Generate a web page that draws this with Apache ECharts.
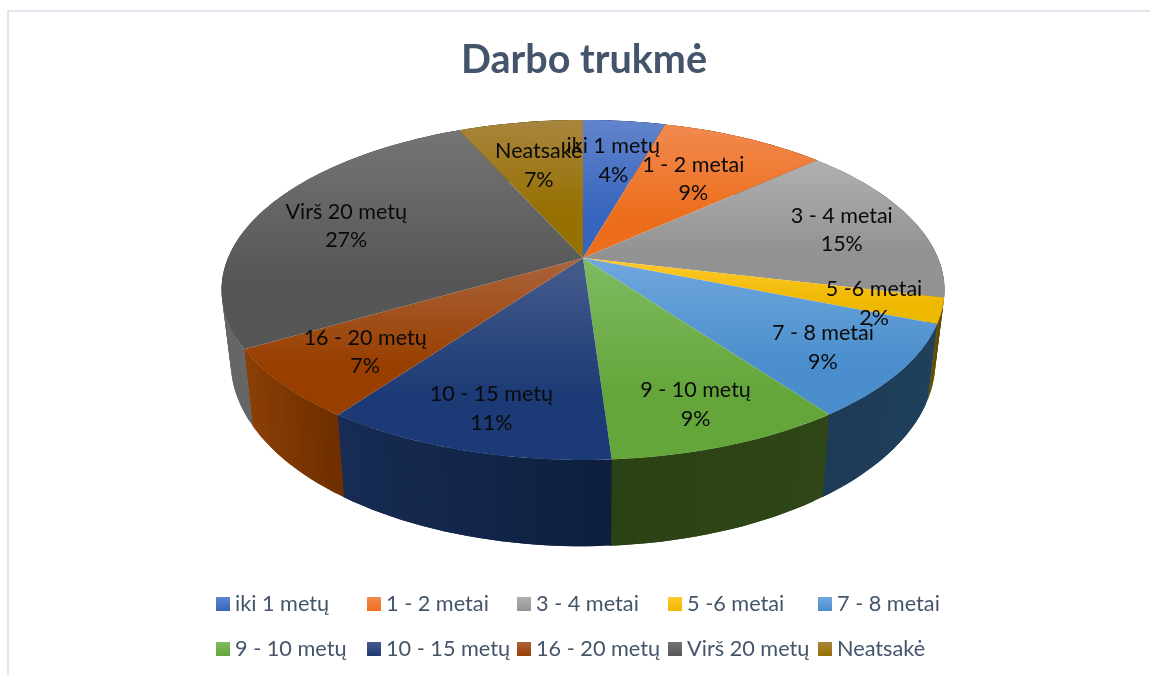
<!DOCTYPE html>
<html>
<head>
<meta charset="utf-8">
<script src="https://cdn.jsdelivr.net/npm/echarts@6/dist/echarts.min.js"></script>
<style>html,body{margin:0;padding:0;background:#fff}#c{width:1150px;height:675px}</style>
</head>
<body>
<div id="c"></div>
<script>
const titleText = 'Darbo trukmė';
const categories = ['iki 1 metų','1 - 2 metai','3 - 4 metai','5 -6 metai','7 - 8 metai','9 - 10 metų','10 - 15 metų','16 - 20 metų','Virš 20 metų','Neatsakė'];
const values = [4.4, 8.9, 15.4, 2.4, 8.9, 8.95, 11.0, 6.65, 26.7, 6.7];
const topLight = ['#6285cc','#f18a50','#b0b0b0','#ffca2e','#70a7dd','#7fba62','#465c8c','#ab643b','#757575','#a8853e'];
const topBase  = ['#3764bd','#ec6e1c','#929292','#efb800','#4a8ecd','#64a63a','#1c3a75','#983f00','#565656','#967000'];
const sideLeft  = ['#223a6e','#8a4312','#5c5c5c','#6b5300','#1e3b56','#2b4214','#172c54','#8c3f06','#666666','#5a4400'];
const sideRight = ['#223a6e','#8a4312','#5c5c5c','#5c4700','#20405c','#2f4617','#0e1f3e','#6e2e00','#4e4e4e','#5a4400'];
const labelRadius = [0.70, 0.65, 0.78, 0.82, 0.78, 0.80, 0.80, 0.75, 0.73, 0.67];

// Perspective view of the pie disc: top and bottom rims.
const view = { cx: 583, p: 0.188, top: { cy: 258, a: 355, b: 164 }, bottom: { cy: 327, a: 346, b: 178 } };
function project(rim, theta, r) {
  const u = r * Math.sin(theta), v = r * Math.cos(theta), d = 1 + view.p * v;
  return [view.cx + rim.a * u / d, rim.cy - rim.b * v / d];
}
function arc(rim, a0, a1) {
  const n = Math.max(2, Math.ceil(Math.abs(a1 - a0) / 0.01)), pts = [];
  for (let i = 0; i <= n; i++) pts.push(project(rim, a0 + (a1 - a0) * i / n, 1));
  return pts;
}
const total = values.reduce((s, v) => s + v, 0);
const starts = values.map((_, i) => values.slice(0, i).reduce((s, v) => s + v, 0));
const G = echarts.graphic.LinearGradient;

function sideStrips(i, a0, a1) {
  const step = (a1 - a0) / Math.max(1, Math.ceil((a1 - a0) / 0.03)), out = [];
  const x0 = Math.sin(a0), x1 = Math.sin(a1), span = Math.abs(x1 - x0) || 1;
  for (let t0 = a0; t0 < a1 - step / 2; t0 += step) {
    const t1 = Math.min(a1 + 0.004, t0 + step * 2);   // each strip runs under the next, leaving no seam
    const f = Math.min(1, Math.max(0, (Math.sin(t0 + step / 2) - Math.min(x0, x1)) / span));
    out.push({ type: 'polygon', z2: 1,
      shape: { points: [project(view.top, t0, 1), arcMid(view.top, t0, t1), project(view.top, t1, 1),
                        project(view.bottom, t1, 1), arcMid(view.bottom, t0, t1), project(view.bottom, t0, 1)] },
      style: { fill: echarts.color.lerp(f, [sideLeft[i], sideRight[i]]) } });
  }
  return out;
}
function arcMid(rim, t0, t1) { return project(rim, (t0 + t1) / 2, 1); }

function renderSlice(i) {
  return function (params, api) {
    const v = api.value(0), s = api.value(1);
    const a0 = s / total * 2 * Math.PI, a1 = (s + v) / total * 2 * Math.PI, mid = (a0 + a1) / 2;
    const topArc = arc(view.top, a0, a1);
    const pos = project(view.top, mid, labelRadius[i]);
    return { type: 'group', children: sideStrips(i, a0, a1).concat([
      { type: 'polygon', z2: 10, shape: { points: [[view.cx, view.top.cy]].concat(topArc) },
        style: { fill: new G(0, 0, 0, 1, [{ offset: 0, color: topLight[i] }, { offset: 0.68, color: topBase[i] }, { offset: 1, color: topBase[i] }]) } },
      { type: 'text', z2: 20, x: pos[0], y: pos[1] + 3, style: {
          text: categories[i] + '\n' + Math.round(v) + '%', align: 'center', verticalAlign: 'middle',
          fontFamily: 'Lato', fontSize: 21.5, lineHeight: 28.5, fill: '#0a0a0a' } }
    ]) };
  };
}

const legendX = [216, 367, 517, 668, 818];
const legendY = [593, 638];
const option = {
  animation: false,
  backgroundColor: '#ffffff',
  title: { text: titleText, left: 584, top: 40, padding: 0, textAlign: 'center',
    textStyle: { fontFamily: 'Lato', fontWeight: 'bold', fontSize: 39.5, color: '#44546a' } },
  legend: categories.map((name, i) => ({
    data: [name], left: legendX[i % 5], top: legendY[Math.floor(i / 5)], padding: 0,
    icon: 'rect', itemWidth: 14, itemHeight: 14, selectedMode: false,
    textStyle: { fontFamily: 'Lato', fontSize: 21.7, color: '#44546a' }
  })),
  graphic: [
    { type: 'rect', silent: true, shape: { x: 7, y: 10, width: 1143, height: 2 }, style: { fill: '#e0e4ec' } },
    { type: 'rect', silent: true, shape: { x: 7, y: 10, width: 2, height: 665 }, style: { fill: '#e0e4ec' } }
  ],
  series: categories.map((name, i) => ({
    type: 'custom', name, coordinateSystem: 'none', silent: true,
    itemStyle: { color: new G(0, 0, 0, 1, [{ offset: 0, color: topLight[i] }, { offset: 1, color: topBase[i] }]) },
    renderItem: renderSlice(i),
    data: [[values[i], starts[i]]]
  }))
};
echarts.init(document.getElementById('c'), null, { renderer: 'canvas' }).setOption(option);
</script>
</body>
</html>
